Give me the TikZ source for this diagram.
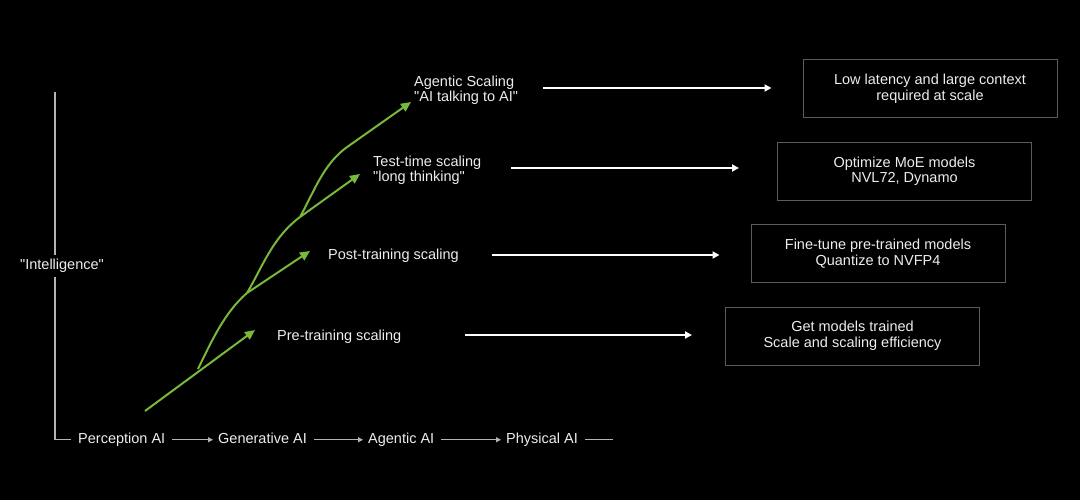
\documentclass[tikz,border=0pt]{standalone}
\usepackage{fontspec}
\setmainfont{Liberation Sans}
\usetikzlibrary{arrows.meta}
\definecolor{nvgreen}{HTML}{78B83A}
\definecolor{txt}{HTML}{EDEDED}
\definecolor{boxline}{HTML}{5C5C5C}
\definecolor{axisc}{HTML}{B4B4B4}
\newcommand{\q}{\textquotedbl}
\begin{document}
\begin{tikzpicture}[x=1pt,y=-1pt,
  lbl/.style={text=txt, font=\fontsize{14.5}{15.5}\selectfont, inner sep=0pt, text height=10.5pt, text depth=3pt},
  lbltwo/.style={text=txt, font=\fontsize{14.5}{15.5}\selectfont, inner sep=0pt, align=left},
  infobox/.style={draw=boxline, line width=1pt, text=txt, font=\fontsize{14.5}{15.5}\selectfont,
    align=center, minimum width=254pt, minimum height=58pt, inner sep=0pt},
  garrow/.style={nvgreen, line width=2pt, -{Triangle[length=10pt,width=9pt]}},
  gline/.style={nvgreen, line width=2pt},
  warrow/.style={white, line width=2pt, -{Triangle[length=7pt,width=7pt]}},
  axisline/.style={axisc, line width=1.1pt},
  axarrow/.style={axisc, line width=1.1pt, -{Triangle[length=5pt,width=5pt]}}
]
\fill[black] (0,0) rectangle (1080,500);
\useasboundingbox (0,0) rectangle (1080,500);

% bottom axis labels
\node[lbl, anchor=base west] (p1) at (78,443.5) {Perception AI};
\node[lbl, anchor=base west] (p2) at (218,443.5) {Generative AI};
\node[lbl, anchor=base west] (p3) at (368,443.5) {Agentic AI};
\node[lbl, anchor=base west] (p4) at (506,443.5) {Physical AI};
\coordinate (axtop) at (55,92);
\coordinate (axend) at (613,439.75);

\draw[axisline] (axtop) |- ([xshift=-7pt]p1.west);
\draw[axarrow] ([xshift=7pt]p1.east) -- ([xshift=-5pt]p2.west);
\draw[axarrow] ([xshift=7pt]p2.east) -- ([xshift=-5pt]p3.west);
\draw[axarrow] ([xshift=7pt]p3.east) -- ([xshift=-5pt]p4.west);
\draw[axisline] ([xshift=7pt]p4.east) -- (axend);

% y-axis label (covers the axis line)
\node[lbl, anchor=base, fill=black, inner xsep=1pt, inner ysep=4pt] (intel) at (62,269.5) {\q Intelligence\q};

% scaling labels
\node[lbltwo, anchor=north west] (la) at (414,75.3) {Agentic Scaling\\\q AI talking to AI\q};
\node[lbltwo, anchor=north west] (lt) at (373,155.3) {Test-time scaling\\\q long thinking\q};
\node[lbl, anchor=base west] (lp) at (328,259) {Post-training scaling};
\node[lbl, anchor=base west] (lr) at (277,340) {Pre-training scaling};

% boxes
\node[infobox] (b1) at (930,89) {Low latency and large context\\required at scale};
\node[infobox] (b2) at (904.5,171.5) {Optimize MoE models\\NVL72, Dynamo};
\node[infobox] (b3) at (878,253.5) {Fine-tune pre-trained models\\Quantize to NVFP4};
\node[infobox] (b4) at (852.5,336) {Get models trained\\Scale and scaling efficiency};

% white arrows
\coordinate (wa) at (543,88);
\coordinate (wt) at (511,168);
\coordinate (wp) at (492,255);
\coordinate (wr) at (465,335);
\draw[warrow] (wa) -- ([xshift=-31pt]b1.west |- wa);
\draw[warrow] (wt) -- ([xshift=-38pt]b2.west |- wt);
\draw[warrow] (wp) -- ([xshift=-31pt]b3.west |- wp);
\draw[warrow] (wr) -- ([xshift=-33pt]b4.west |- wr);

% green curves
\coordinate (s) at (145,411);
\coordinate (k1) at (198,369);
\coordinate (k2) at (247,293);
\coordinate (k3) at (300,217);
\coordinate (t1) at (255,330);
\coordinate (t2) at (310,251);
\coordinate (t3) at (360,174);
\coordinate (t4) at (411,102);

\draw[garrow] (s) -- (t1);
\draw[gline] (k1) .. controls (212,340) and (225,312) .. (k2);
\draw[garrow] (k2) -- (t2);
\draw[gline] (k2) .. controls (262,268) and (272,238) .. (k3);
\draw[garrow] (k3) -- (t3);
\draw[garrow] (k3) .. controls (315,190) and (324,162) .. (350,145) -- (t4);
\end{tikzpicture}
\end{document}
